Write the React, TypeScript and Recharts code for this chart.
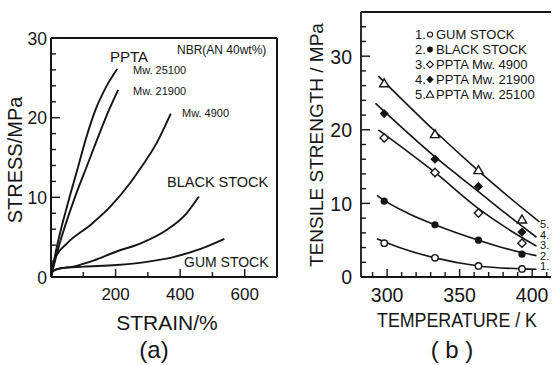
import {
  ComposedChart,
  Line,
  LineChart,
  ReferenceLine,
  Scatter,
  XAxis,
  YAxis,
} from "recharts";

const FONT = '"Liberation Sans", Arial, sans-serif';
const INK = "#151515";

// ---- panel (a): stress-strain curves, NBR (AN 40 wt%) ----
const pptaMw25100 = [
  { x: 0, y: 0 }, { x: 15, y: 3.2 }, { x: 54, y: 9.5 }, { x: 81, y: 13.4 }, { x: 110, y: 17.6 },
  { x: 138, y: 21 }, { x: 170, y: 23.8 }, { x: 205, y: 26.1 },
];
const pptaMw21900 = [
  { x: 0, y: 0 }, { x: 24, y: 3.8 }, { x: 74, y: 10 }, { x: 112, y: 14 }, { x: 150, y: 18 },
  { x: 180, y: 21 }, { x: 208, y: 23.5 },
];
const pptaMw4900 = [
  { x: 0, y: 0 }, { x: 3, y: 1.2 }, { x: 12, y: 2.3 }, { x: 49, y: 4.2 }, { x: 121, y: 6.5 },
  { x: 183, y: 8.8 }, { x: 245, y: 11.8 }, { x: 280, y: 13.8 }, { x: 327, y: 16.8 }, { x: 371, y: 20.5 },
];
const blackStock = [
  { x: 0, y: 0 }, { x: 5, y: 0.7 }, { x: 18, y: 0.95 }, { x: 69, y: 1.3 }, { x: 131, y: 2.05 },
  { x: 203, y: 3.2 }, { x: 276, y: 4.2 }, { x: 358, y: 5.9 }, { x: 420, y: 8 }, { x: 458, y: 10.1 },
];
const gumStock = [
  { x: 0, y: 0 }, { x: 5, y: 0.7 }, { x: 28, y: 1.1 }, { x: 100, y: 1.3 }, { x: 203, y: 1.5 },
  { x: 296, y: 1.9 }, { x: 379, y: 2.5 }, { x: 461, y: 3.5 }, { x: 537, y: 4.8 },
];
const strainTicks = [100, 200, 300, 400, 500, 600];
const strainLabels = [200, 400, 600];
const stressTicks = [0, 2, 4, 6, 8, 10, 12, 14, 16, 18, 20, 22, 24, 26, 28, 30];
const stressLabels = [0, 10, 20, 30];

// ---- panel (b): tensile strength vs temperature ----
const gumPts = [{ t: 298, s: 4.6 }, { t: 333, s: 2.6 }, { t: 363, s: 1.5 }, { t: 393, s: 1.1 }];
const blackPts = [{ t: 298, s: 10.3 }, { t: 333, s: 7.1 }, { t: 363, s: 5.0 }, { t: 393, s: 3.1 }];
const ppta4900Pts = [{ t: 298, s: 18.9 }, { t: 333, s: 14.2 }, { t: 363, s: 8.7 }, { t: 393, s: 4.6 }];
const ppta21900Pts = [{ t: 298, s: 22.2 }, { t: 333, s: 16.0 }, { t: 363, s: 12.3 }, { t: 393, s: 6.1 }];
const ppta25100Pts = [{ t: 298, s: 26.3 }, { t: 333, s: 19.4 }, { t: 363, s: 14.5 }, { t: 393, s: 7.8 }];

const gumFit = [{ t: 293, s: 5.2 }, { t: 310, s: 3.9 }, { t: 333, s: 2.6 }, { t: 363, s: 1.5 }, { t: 393, s: 1.1 }, { t: 403, s: 1.05 }];
const blackFit = [{ t: 293, s: 11.1 }, { t: 298, s: 10.4 }, { t: 315, s: 8.6 }, { t: 333, s: 7.1 }, { t: 363, s: 5.0 }, { t: 385, s: 3.7 }, { t: 403, s: 2.9 }];
const ppta4900Fit = [{ t: 294, s: 20 }, { t: 333, s: 14.2 }, { t: 363, s: 9.3 }, { t: 382, s: 6.7 }, { t: 403, s: 4.2 }];
const ppta21900Fit = [{ t: 292, s: 23.6 }, { t: 335, s: 16.0 }, { t: 363, s: 11.6 }, { t: 382, s: 8.6 }, { t: 403, s: 5.4 }];
const ppta25100Fit = [{ t: 294, s: 27.3 }, { t: 333, s: 19.8 }, { t: 362, s: 14.6 }, { t: 382, s: 11.2 }, { t: 405, s: 7.5 }];

const tempTicks = [290, 300, 310, 320, 330, 340, 350, 360, 370, 380, 390, 400, 410];
const tempLabels = [300, 350, 400];
const strengthTicks = [0, 2, 4, 6, 8, 10, 12, 14, 16, 18, 20, 22, 24, 26, 28, 30, 32, 34];
const strengthLabels = [0, 10, 20, 30];

const legendRows = ["GUM STOCK", "BLACK STOCK", "PPTA Mw. 4900", "PPTA Mw. 21900", "PPTA Mw. 25100"];

// ---- ticks drawn inward, labels outside ----
function yTick(labels: number[], fontSize: number, gap: number) {
  return (props: any) => {
    const { x, y, payload } = props;
    const major = labels.includes(payload.value);
    return (
      <g>
        <line x1={x} x2={x + (major ? 9 : 5)} y1={y} y2={y} stroke={INK} strokeWidth={1.4} />
        {major && (
          <text x={x - gap} y={y} dy="0.38em" textAnchor="end" fontSize={fontSize} fontFamily={FONT} fill={INK}>
            {payload.value}
          </text>
        )}
      </g>
    );
  };
}

function xTick(labels: number[], fontSize: number, gap: number) {
  return (props: any) => {
    const { x, y, payload } = props;
    const major = labels.includes(payload.value);
    return (
      <g>
        <line x1={x} x2={x} y1={y} y2={y - (major ? 8 : 5)} stroke={INK} strokeWidth={1.4} />
        {major && (
          <text x={x} y={y + gap} textAnchor="middle" fontSize={fontSize} fontFamily={FONT} fill={INK}>
            {payload.value}
          </text>
        )}
      </g>
    );
  };
}

// ---- markers ----
const OpenCircle = (p: any) => <circle cx={p.cx} cy={p.cy} r={3.2} fill="#fff" stroke={INK} strokeWidth={1.4} />;
const FilledCircle = (p: any) => <circle cx={p.cx} cy={p.cy} r={3.6} fill={INK} />;
const OpenDiamond = (p: any) => (
  <path d={`M${p.cx},${p.cy - 4.2}L${p.cx + 4.2},${p.cy}L${p.cx},${p.cy + 4.2}L${p.cx - 4.2},${p.cy}Z`} fill="#fff" stroke={INK} strokeWidth={1.4} />
);
const FilledDiamond = (p: any) => (
  <path d={`M${p.cx},${p.cy - 4.6}L${p.cx + 4.6},${p.cy}L${p.cx},${p.cy + 4.6}L${p.cx - 4.6},${p.cy}Z`} fill={INK} />
);
const OpenTriangle = (p: any) => (
  <path d={`M${p.cx},${p.cy - 4.6}L${p.cx + 4.6},${p.cy + 3.4}L${p.cx - 4.6},${p.cy + 3.4}Z`} fill="#fff" stroke={INK} strokeWidth={1.4} />
);
const markers = [OpenCircle, FilledCircle, OpenDiamond, FilledDiamond, OpenTriangle];

function PanelA() {
  const curves = [pptaMw25100, pptaMw21900, pptaMw4900, blackStock, gumStock];
  return (
    <LineChart width={300} height={365} margin={{ top: 38, right: 23, bottom: 87, left: 50 }}>
      <XAxis
        type="number"
        dataKey="x"
        domain={[0, 700]}
        allowDataOverflow
        ticks={strainTicks}
        interval={0}
        height={1}
        tickSize={0}
        tickMargin={0}
        tickLine={false}
        axisLine={{ stroke: INK, strokeWidth: 2 }}
        tick={xTick(strainLabels, 17, 23)}
      />
      <YAxis
        type="number"
        domain={[0, 30]}
        allowDataOverflow
        ticks={stressTicks}
        interval={0}
        width={1}
        tickSize={0}
        tickMargin={0}
        tickLine={false}
        axisLine={{ stroke: INK, strokeWidth: 2 }}
        tick={yTick(stressLabels, 17.5, 4)}
      />
      <ReferenceLine y={30} stroke={INK} strokeWidth={2} />
      <ReferenceLine x={700} stroke={INK} strokeWidth={2} />
      {curves.map((d, i) => (
        <Line
          key={i}
          data={d}
          dataKey="y"
          type="monotone"
          stroke={INK}
          strokeWidth={1.9}
          dot={false}
          isAnimationActive={false}
        />
      ))}
    </LineChart>
  );
}

function PanelB() {
  const fits = [gumFit, blackFit, ppta4900Fit, ppta21900Fit, ppta25100Fit];
  const pts = [gumPts, blackPts, ppta4900Pts, ppta21900Pts, ppta25100Pts];
  return (
    <ComposedChart width={276} height={365} margin={{ top: 12, right: 5, bottom: 87, left: 80 }}>
      <XAxis
        type="number"
        dataKey="t"
        domain={[282, 413]}
        allowDataOverflow
        ticks={tempTicks}
        interval={0}
        height={1}
        tickSize={0}
        tickMargin={0}
        tickLine={false}
        axisLine={{ stroke: INK, strokeWidth: 1.8 }}
        tick={xTick(tempLabels, 19.5, 25)}
      />
      <YAxis
        type="number"
        dataKey="s"
        domain={[0, 36]}
        allowDataOverflow
        ticks={strengthTicks}
        interval={0}
        width={1}
        tickSize={0}
        tickMargin={0}
        tickLine={false}
        axisLine={{ stroke: INK, strokeWidth: 1.8 }}
        tick={yTick(strengthLabels, 19.5, 9)}
      />
      <ReferenceLine y={36} stroke={INK} strokeWidth={1.8} />
      {fits.map((d, i) => (
        <Line
          key={`f${i}`}
          data={d}
          dataKey="s"
          type="monotone"
          stroke={INK}
          strokeWidth={1.6}
          dot={false}
          isAnimationActive={false}
        />
      ))}
      {pts.map((d, i) => (
        <Scatter key={`p${i}`} data={d} dataKey="s" shape={markers[i]} isAnimationActive={false} />
      ))}
    </ComposedChart>
  );
}

export default function App() {
  const txt = { fontFamily: FONT, fill: INK } as const;
  const endLabelY = [270, 259.5, 249, 238.5, 228];
  return (
    <div style={{ position: "absolute", left: 0, top: 0, width: 556, height: 365, background: "#fff" }}>
      <div style={{ position: "absolute", left: 0, top: 0 }}>
        <PanelA />
      </div>
      <div style={{ position: "absolute", left: 280, top: 0 }}>
        <PanelB />
      </div>
      <svg width={556} height={365} style={{ position: "absolute", left: 0, top: 0, pointerEvents: "none" }}>
        {/* panel (a) */}
        <text x={15} y={160} transform="rotate(-90 15 160)" textAnchor="middle" dominantBaseline="central" fontSize={20} {...txt}>
          STRESS/MPa
        </text>
        <text x={167} y={330} textAnchor="middle" fontSize={21} {...txt}>STRAIN/%</text>
        <text x={154} y={358} textAnchor="middle" fontSize={24} {...txt}>(a)</text>
        <text x={177} y={54} fontSize={12} {...txt}>NBR(AN 40wt%)</text>
        <text x={110} y={62} fontSize={15} {...txt}>PPTA</text>
        <text x={133} y={74} fontSize={11} {...txt}>Mw. 25100</text>
        <text x={133} y={95} fontSize={11} {...txt}>Mw. 21900</text>
        <text x={182} y={117} fontSize={11} {...txt}>Mw. 4900</text>
        <text x={167} y={187} fontSize={14.5} {...txt}>BLACK STOCK</text>
        <text x={184} y={267} fontSize={14} {...txt}>GUM STOCK</text>

        {/* panel (b) */}
        <text x={316} y={145} transform="rotate(-90 316 145)" textAnchor="middle" dominantBaseline="central" fontSize={19} {...txt}>
          TENSILE STRENGTH / MPa
        </text>
        <text x={457} y={327} textAnchor="middle" fontSize={20} textLength={160} lengthAdjust="spacingAndGlyphs" {...txt}>
          TEMPERATURE / K
        </text>
        <text x={452} y={358} textAnchor="middle" fontSize={24} {...txt}>( b )</text>
        {legendRows.map((name, i) => {
          const y = 39 + i * 15;
          const M = markers[i];
          return (
            <g key={name}>
              <text x={415} y={y} fontSize={13} {...txt}>{i + 1}.</text>
              <g transform={`translate(430 ${y - 4.5}) scale(0.8)`}>
                <M cx={0} cy={0} />
              </g>
              <text x={436} y={y} fontSize={13} {...txt}>{name}</text>
            </g>
          );
        })}
        {endLabelY.map((y, i) => (
          <text key={i} x={540} y={y} fontSize={11} {...txt}>{i + 1}.</text>
        ))}
      </svg>
    </div>
  );
}
